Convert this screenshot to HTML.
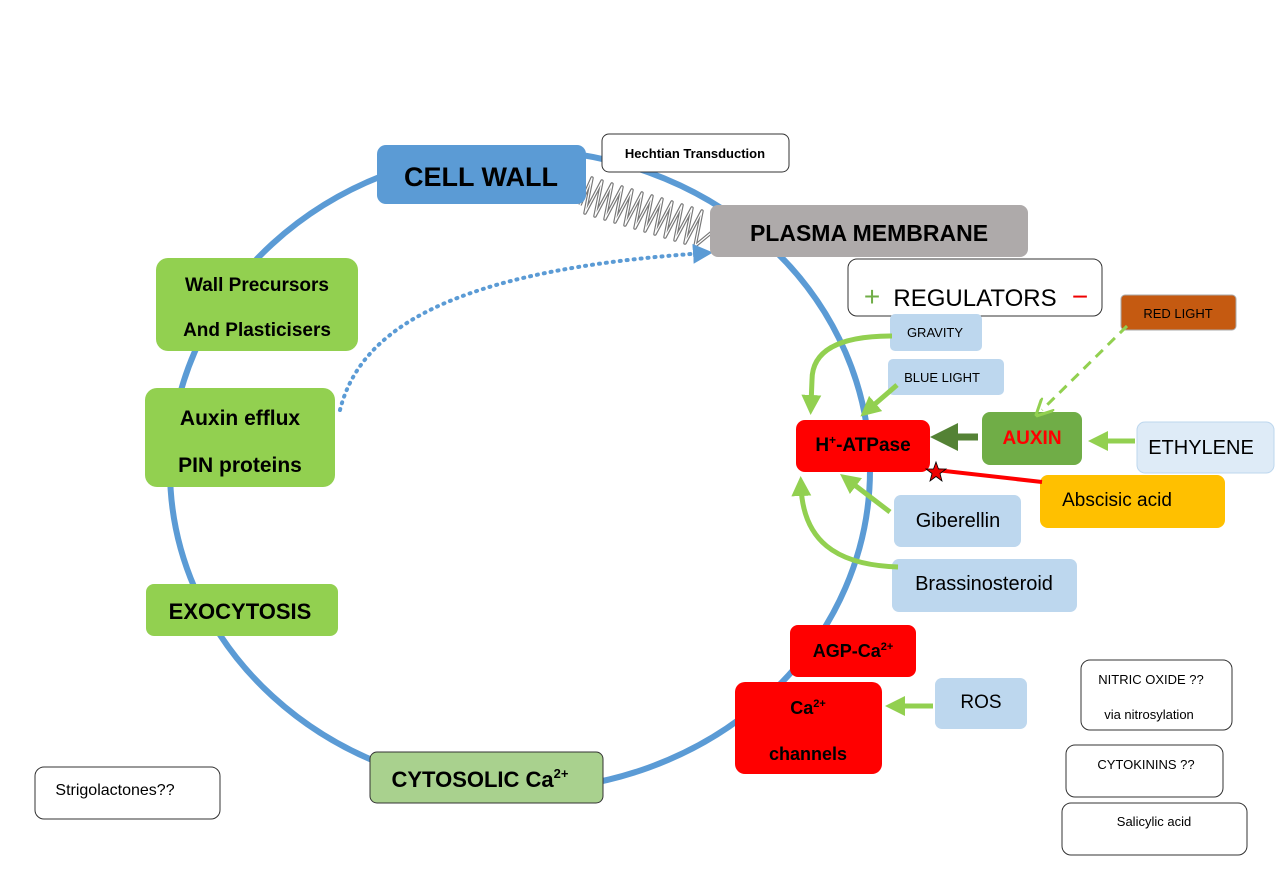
<!DOCTYPE html>
<html><head><meta charset="utf-8"><style>
html,body{margin:0;padding:0;background:#fff;}
svg{display:block;font-family:"Liberation Sans",sans-serif;}
</style></head><body>
<svg width="1283" height="885" viewBox="0 0 1283 885" xmlns="http://www.w3.org/2000/svg">
<defs>
<marker id="ag" markerWidth="4" markerHeight="4" refX="2" refY="2" orient="auto" markerUnits="strokeWidth"><path d="M0,0 L4,2 L0,4 z" fill="#92d050"/></marker>
<marker id="ad" markerWidth="4" markerHeight="4" refX="2" refY="2" orient="auto" markerUnits="strokeWidth"><path d="M0,0 L4,2 L0,4 z" fill="#548235"/></marker>
<marker id="agd" markerWidth="6" markerHeight="6" refX="3" refY="3" orient="auto" markerUnits="strokeWidth"><path d="M0,0 L6,3 L0,6" fill="none" stroke="#92d050" stroke-width="1"/></marker>
<marker id="ab" markerWidth="5" markerHeight="5" refX="3" refY="2.5" orient="auto" markerUnits="strokeWidth"><path d="M0,0 L5,2.5 L0,5 z" fill="#5b9bd5"/></marker>
</defs>
<ellipse cx="520" cy="470" rx="350" ry="320" fill="none" stroke="#5b9bd5" stroke-width="6"/>
<!-- coil -->
<g id="coil" fill="none" stroke-linejoin="round">
<path stroke="#777" stroke-width="3.5" d="M580,205 L592,178 L585,213 L602,181 L595,216 L612,184 L605,219 L622,187 L615,222 L632,190 L625,225 L642,193 L635,228 L652,196 L645,231 L662,199 L655,234 L672,202 L665,237 L682,205 L675,240 L692,208 L685,243 L702,211 L695,246 L712,232"/>
<path stroke="#fff" stroke-width="1.2" d="M580,205 L592,178 L585,213 L602,181 L595,216 L612,184 L605,219 L622,187 L615,222 L632,190 L625,225 L642,193 L635,228 L652,196 L645,231 L662,199 L655,234 L672,202 L665,237 L682,205 L675,240 L692,208 L685,243 L702,211 L695,246 L712,232"/>
</g>
<!-- dotted -->
<path d="M340,410 C360,330 450,270 705,253" fill="none" stroke="#5b9bd5" stroke-width="4" stroke-dasharray="1,6" stroke-linecap="round" marker-end="url(#ab)"/>
<!-- boxes -->
<rect x="377" y="145" width="209" height="59" rx="9" fill="#5b9bd5"/>
<text x="481" y="186" font-size="27" font-weight="bold" text-anchor="middle">CELL WALL</text>
<rect x="602" y="134" width="187" height="38" rx="7" fill="#fff" stroke="#333"/>
<text x="695" y="158" font-size="13" font-weight="bold" text-anchor="middle">Hechtian Transduction</text>
<rect x="710" y="205" width="318" height="52" rx="8" fill="#aeaaaa"/>
<text x="869" y="241" font-size="23" font-weight="bold" text-anchor="middle">PLASMA MEMBRANE</text>
<rect x="848" y="259" width="254" height="57" rx="9" fill="#fff" stroke="#333"/>
<text x="872" y="306" font-size="28" fill="#70ad47" text-anchor="middle">+</text>
<text x="975" y="306" font-size="24" text-anchor="middle">REGULATORS</text>
<text x="1080" y="306" font-size="28" fill="#e00" text-anchor="middle">−</text>
<rect x="1121" y="295" width="115" height="35" rx="4" fill="#c55a11" stroke="#aaa"/>
<text x="1178" y="318" font-size="13" text-anchor="middle">RED LIGHT</text>
<rect x="890" y="314" width="92" height="37" rx="5" fill="#bdd7ee"/>
<text x="935" y="337" font-size="13" text-anchor="middle">GRAVITY</text>
<rect x="888" y="359" width="116" height="36" rx="5" fill="#bdd7ee"/>
<text x="942" y="382" font-size="13" text-anchor="middle">BLUE LIGHT</text>
<rect x="796" y="420" width="134" height="52" rx="9" fill="#f00"/>
<text x="863" y="451" font-size="19" font-weight="bold" text-anchor="middle">H<tspan font-size="12" dy="-7">+</tspan><tspan dy="7">-ATPase</tspan></text>
<rect x="982" y="412" width="100" height="53" rx="8" fill="#70ad47"/>
<text x="1032" y="444" font-size="19" font-weight="bold" fill="#f00" text-anchor="middle">AUXIN</text>
<rect x="1137" y="422" width="137" height="51" rx="8" fill="#deebf7" stroke="#bdd7ee"/>
<text x="1201" y="454" font-size="20" text-anchor="middle">ETHYLENE</text>
<rect x="1040" y="475" width="185" height="53" rx="8" fill="#ffc000"/>
<text x="1117" y="506" font-size="19" text-anchor="middle">Abscisic acid</text>
<rect x="894" y="495" width="127" height="52" rx="7" fill="#bdd7ee"/>
<text x="958" y="527" font-size="20" text-anchor="middle">Giberellin</text>
<rect x="892" y="559" width="185" height="53" rx="7" fill="#bdd7ee"/>
<text x="984" y="590" font-size="20" text-anchor="middle">Brassinosteroid</text>
<rect x="790" y="625" width="126" height="52" rx="8" fill="#f00"/>
<text x="853" y="657" font-size="18" font-weight="bold" text-anchor="middle">AGP-Ca<tspan font-size="11" dy="-7">2+</tspan></text>
<rect x="735" y="682" width="147" height="92" rx="10" fill="#f00"/>
<text x="808" y="714" font-size="18" font-weight="bold" text-anchor="middle">Ca<tspan font-size="11" dy="-7">2+</tspan></text>
<text x="808" y="760" font-size="18" font-weight="bold" text-anchor="middle">channels</text>
<rect x="935" y="678" width="92" height="51" rx="7" fill="#bdd7ee"/>
<text x="981" y="708" font-size="19" text-anchor="middle">ROS</text>
<rect x="1081" y="660" width="151" height="70" rx="9" fill="#fff" stroke="#333"/>
<text x="1151" y="684" font-size="13" text-anchor="middle">NITRIC OXIDE ??</text>
<text x="1149" y="719" font-size="13" text-anchor="middle">via nitrosylation</text>
<rect x="1066" y="745" width="157" height="52" rx="9" fill="#fff" stroke="#333"/>
<text x="1146" y="769" font-size="13" text-anchor="middle">CYTOKININS ??</text>
<rect x="1062" y="803" width="185" height="52" rx="9" fill="#fff" stroke="#333"/>
<text x="1154" y="826" font-size="13" text-anchor="middle">Salicylic acid</text>
<rect x="35" y="767" width="185" height="52" rx="9" fill="#fff" stroke="#333"/>
<text x="115" y="795" font-size="16" text-anchor="middle">Strigolactones??</text>
<rect x="370" y="752" width="233" height="51" rx="7" fill="#a9d18e" stroke="#333"/>
<text x="480" y="787" font-size="22" font-weight="bold" text-anchor="middle">CYTOSOLIC Ca<tspan font-size="13" dy="-9">2+</tspan></text>
<rect x="146" y="584" width="192" height="52" rx="8" fill="#92d050"/>
<text x="240" y="619" font-size="22" font-weight="bold" text-anchor="middle">EXOCYTOSIS</text>
<rect x="145" y="388" width="190" height="99" rx="12" fill="#92d050"/>
<text x="240" y="425" font-size="21" font-weight="bold" text-anchor="middle">Auxin efflux</text>
<text x="240" y="472" font-size="21" font-weight="bold" text-anchor="middle">PIN proteins</text>
<rect x="156" y="258" width="202" height="93" rx="12" fill="#92d050"/>
<text x="257" y="291" font-size="19" font-weight="bold" text-anchor="middle">Wall Precursors</text>
<text x="257" y="336" font-size="19" font-weight="bold" text-anchor="middle">And Plasticisers</text>
<!-- arrows -->
<g fill="none" stroke="#92d050" stroke-width="5">
<path d="M892,336 C840,336 812,350 812,380 L811,405" marker-end="url(#ag)"/>
<path d="M897,385 L868,410" marker-end="url(#ag)"/>
<path d="M890,512 L848,480" marker-end="url(#ag)"/>
<path d="M898,567 C835,565 803,540 801,486" marker-end="url(#ag)"/>
<path d="M1135,441 L1098,441" marker-end="url(#ag)"/>
<path d="M933,706 L895,706" marker-end="url(#ag)"/>
</g>
<path d="M978,437 L944,437" stroke="#548235" stroke-width="7" marker-end="url(#ad)"/>
<path d="M1127,326 L1042,410" stroke="#92d050" stroke-width="3" stroke-dasharray="10,7" fill="none" marker-end="url(#agd)"/>
<path d="M1042,482 L936,470" stroke="#f00" stroke-width="4"/>
<polygon points="936,462 938.5,469 946,469 940,473.5 942,481 936,476.5 930,481 932,473.5 926,469 933.5,469" fill="#e00" stroke="#000" stroke-width="0.8"/>
</svg>
</body></html>
